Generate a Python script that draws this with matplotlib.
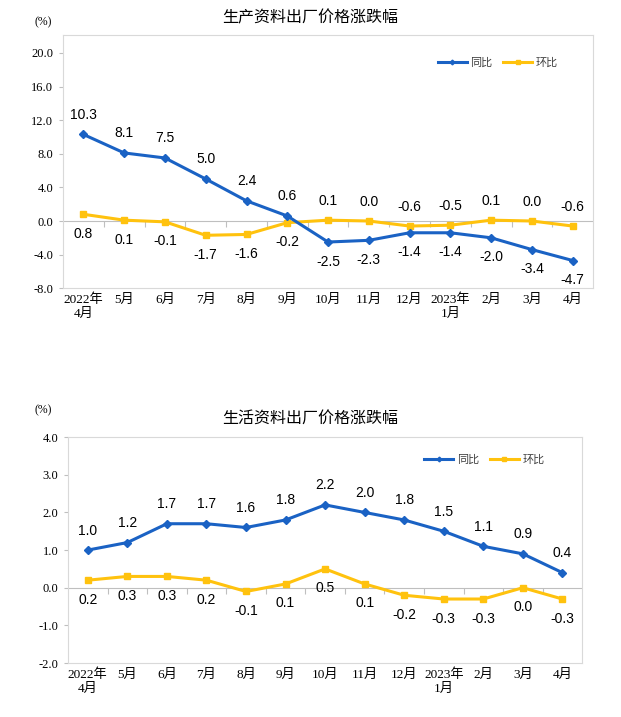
import numpy as np
import matplotlib
matplotlib.use("Agg")
import matplotlib.pyplot as plt

# month labels shared by both panels
months = ["2022年\n4月", "5月", "6月", "7月", "8月", "9月", "10月", "11月",
          "12月", "2023年\n1月", "2月", "3月", "4月"]

# 生产资料
prod_yoy = [10.3, 8.1, 7.5, 5.0, 2.4, 0.6, -2.5, -2.3, -1.4, -1.4, -2.0, -3.4, -4.7]
prod_mom = [0.8, 0.1, -0.1, -1.7, -1.6, -0.2, 0.1, 0.0, -0.6, -0.5, 0.1, 0.0, -0.6]
# 生活资料
cons_yoy = [1.0, 1.2, 1.7, 1.7, 1.6, 1.8, 2.2, 2.0, 1.8, 1.5, 1.1, 0.9, 0.4]
cons_mom = [0.2, 0.3, 0.3, 0.2, -0.1, 0.1, 0.5, 0.1, -0.2, -0.3, -0.3, 0.0, -0.3]

BLUE = "#1A62C4"
YELLOW = "#FFC20E"
GRAY = "#BFBFBF"
CJK = ["Noto Sans CJK SC", "DejaVu Sans"]
SERIF = ["Liberation Serif", "Noto Sans CJK SC"]
LABEL = ["Liberation Sans", "DejaVu Sans"]

fig = plt.figure(figsize=(6.21, 7.17), dpi=100)


def panel(rect, yoy, mom, yoy_up, mom_up, yticks, ylim, title, title_y, pct_y, leg_xy):
    ax = fig.add_axes(rect)
    x = np.arange(len(months))
    ax.plot(x, yoy, color=BLUE, lw=2.2, marker="D", ms=4, zorder=4, label="同比")
    ax.plot(x, mom, color=YELLOW, lw=2.2, marker="s", ms=4.5, zorder=3, label="环比")

    # zero line with category tick marks
    ax.axhline(0, color=GRAY, lw=0.8, zorder=1)
    bounds = np.arange(len(months) + 1) - 0.5
    ax.plot(bounds[1:-1], np.zeros(len(bounds) - 2), ls="none", marker=3,
            ms=4, mew=0.8, color=GRAY, zorder=1)

    for i in range(len(months)):
        up = yoy_up[i]
        ax.annotate(f"{yoy[i]:.1f}", (x[i], yoy[i]), xytext=(0, 9 if up else -9),
                    textcoords="offset points", ha="center",
                    va="bottom" if up else "top", fontsize=10, family=LABEL)
        up = mom_up[i]
        ax.annotate(f"{mom[i]:.1f}", (x[i], mom[i]), xytext=(0, 9 if up else -9),
                    textcoords="offset points", ha="center",
                    va="bottom" if up else "top", fontsize=10, family=LABEL)

    ax.set_xlim(-0.5, len(months) - 0.5)
    ax.set_ylim(*ylim)
    ax.set_yticks(yticks)
    ax.set_yticklabels([f"{v:.1f}" for v in yticks], family=SERIF, fontsize=9)
    ax.set_xticks(x)
    ax.set_xticklabels(months, family=SERIF, fontsize=9.5, linespacing=1.2)
    ax.tick_params(axis="x", length=0, pad=4)
    ax.tick_params(axis="y", length=3, color=GRAY, pad=4)
    for s in ax.spines.values():
        s.set_color("#D9D9D9")
        s.set_linewidth(0.8)

    leg = ax.legend(loc="center", bbox_to_anchor=leg_xy, ncol=2, frameon=False,
                    prop={"family": CJK, "size": 8}, handlelength=2.6,
                    columnspacing=1.0, handletextpad=0.3, markerscale=0.6)
    for t in leg.get_texts():
        t.set_color("#404040")

    fig.text(0.5, title_y, title, ha="center", va="center", family=CJK,
             fontsize=11.5, weight="medium")
    fig.text(0.07, pct_y, "(%)", ha="center", va="center", family=SERIF, fontsize=8.5)
    return ax


panel([0.1015, 0.598, 0.8535, 0.3528], prod_yoy, prod_mom,
      [True] * 6 + [False] * 7, [False] * 6 + [True] * 7,
      np.arange(-8, 21, 4), (-8, 22.1),
      "生产资料出厂价格涨跌幅", 1 - 18 / 717, 1 - 22 / 717, (0.82, 0.89))

panel([0.1095, 0.0753, 0.828, 0.315], cons_yoy, cons_mom,
      [True] * 13, [False] * 13,
      np.arange(-2, 4.1, 1), (-2, 4),
      "生活资料出厂价格涨跌幅", 1 - 418 / 717, 1 - 410 / 717, (0.81, 0.90))

fig.savefig("out.png", dpi=100)
